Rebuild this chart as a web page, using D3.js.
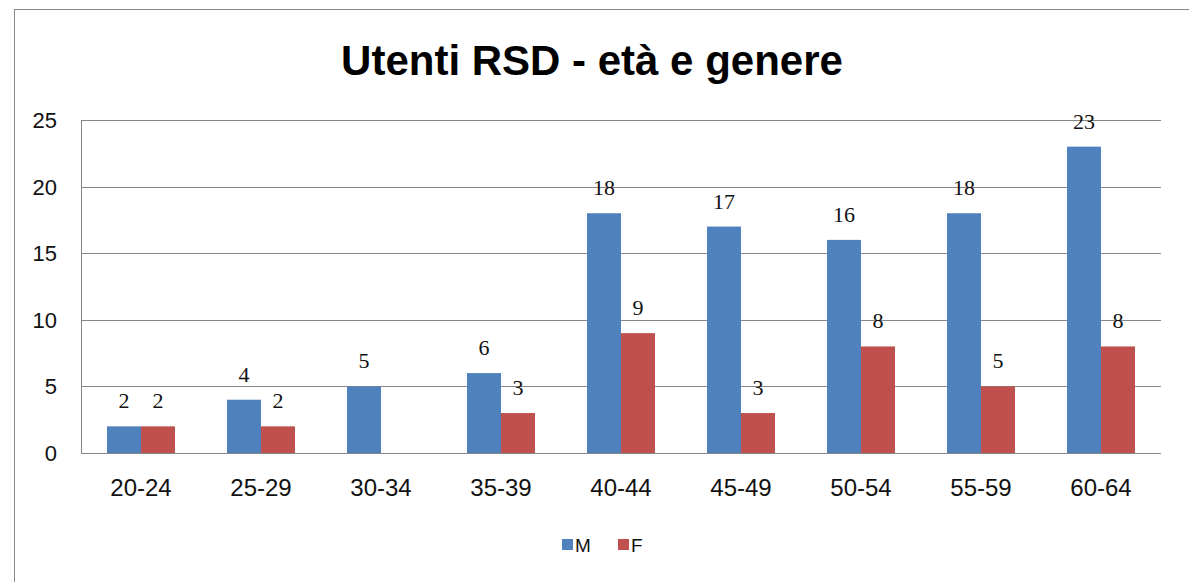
<!DOCTYPE html>
<html><head><meta charset="utf-8">
<script src="https://cdn.jsdelivr.net/npm/d3@7"></script>
<style>body{margin:0;background:#fff}svg{display:block}</style>
</head><body><svg id="c" width="1189" height="582"></svg>
<script>
const title = "Utenti RSD - età e genere";
const categories = ["20-24","25-29","30-34","35-39","40-44","45-49","50-54","55-59","60-64"];
const seriesNames = ["M","F"];
const valuesM = [2,4,5,6,18,17,16,18,23];
const valuesF = [2,2,null,3,9,3,8,5,8];
const yTicks = [0,5,10,15,20,25];
const colors = ["#4F81BD","#C0504D"];

(function(){
const svg = d3.select("#c");
svg.append("rect").attr("x",14.5).attr("y",9.5).attr("width",1200).attr("height",600)
  .attr("fill","#fff").attr("stroke","#8a8a8a").attr("stroke-width",1);

const pLeft=81, pRight=1161, pTop=120, pBottom=453;
const x = d3.scaleBand().domain(categories).range([pLeft,pRight]).padding(0);
const y = d3.scaleLinear().domain([0,25]).range([pBottom,pTop]);
const barW = 34;
const xs = d3.scaleBand().domain(seriesNames).range([-barW, barW]);

// grid
svg.append("g").selectAll("line").data(yTicks).join("line")
  .attr("x1",pLeft).attr("x2",pRight).attr("y1",d=>Math.round(y(d))+0.5).attr("y2",d=>Math.round(y(d))+0.5)
  .attr("stroke","#868686").attr("stroke-width",1);
svg.append("line").attr("x1",pLeft+0.5).attr("x2",pLeft+0.5).attr("y1",pTop).attr("y2",pBottom)
  .attr("stroke","#868686");

// y tick labels
svg.append("g").selectAll("text").data(yTicks).join("text")
  .attr("x",57).attr("y",d=>y(d)+8).attr("text-anchor","end")
  .attr("font-family","Liberation Sans, Arial, sans-serif").attr("font-size",22).attr("fill","#111")
  .text(d=>d);

// bars
const series = [valuesM, valuesF];
series.forEach((vals,si)=>{
  const g = svg.append("g");
  const data = categories.map((c,i)=>({c, v: vals[i]})).filter(d=>d.v!=null);
  g.selectAll("rect").data(data).join("rect")
    .attr("x",d=>x(d.c)+x.bandwidth()/2+xs(seriesNames[si]))
    .attr("width",xs.bandwidth())
    .attr("y",d=>y(d.v)).attr("height",d=>y(0)-y(d.v))
    .attr("fill",colors[si]);
  g.selectAll("text").data(data).join("text")
    .attr("x",d=>x(d.c)+x.bandwidth()/2+xs(seriesNames[si])+xs.bandwidth()/2)
    .attr("y",d=>y(d.v)-18).attr("text-anchor","middle")
    .attr("font-family","Liberation Serif, Times New Roman, serif").attr("font-size",22).attr("fill","#111")
    .text(d=>d.v);
});

// x labels
svg.append("g").selectAll("text").data(categories).join("text")
  .attr("x",d=>x(d)+x.bandwidth()/2).attr("y",496).attr("text-anchor","middle")
  .attr("font-family","Liberation Sans, Arial, sans-serif").attr("font-size",24).attr("fill","#111")
  .text(d=>d);

// title
svg.append("text").attr("x",592).attr("y",75).attr("text-anchor","middle")
  .attr("font-family","Liberation Sans, Arial, sans-serif").attr("font-weight","bold").attr("font-size",42)
  .attr("fill","#000").text(title);

// legend
const legX = [562, 618];
seriesNames.forEach((n,i)=>{
  svg.append("rect").attr("x",legX[i]).attr("y",539).attr("width",11).attr("height",11).attr("fill",colors[i]);
  svg.append("text").attr("x",legX[i]+13).attr("y",552)
    .attr("font-family","Liberation Sans, Arial, sans-serif").attr("font-size",19).attr("fill","#111").text(n);
});
})();
</script></body></html>
